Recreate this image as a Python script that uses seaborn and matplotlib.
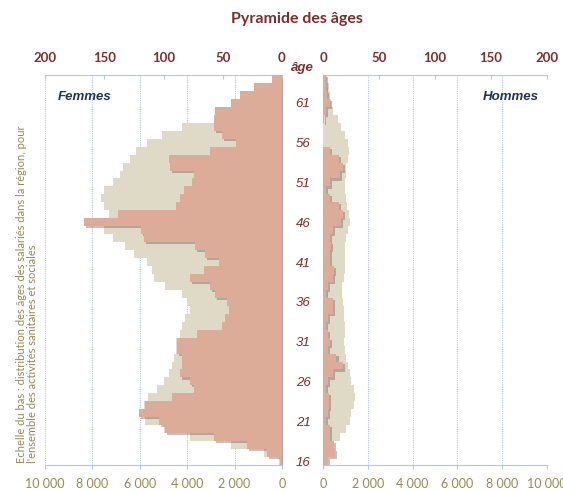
import matplotlib
matplotlib.use("Agg")
import matplotlib.pyplot as plt
import matplotlib.patheffects as pe
from matplotlib.ticker import FuncFormatter
import seaborn as sns

# ages, youngest first
ages = list(range(16, 65))

# bottom scale (0-10 000): regional distribution
femmes_region = [140, 773, 2150, 3880, 4991, 5765, 5905, 5807, 5666, 5273,
                 4991, 4780, 4640, 4541, 4471, 4471, 4288, 4218, 4077, 3895,
                 4007, 4218, 4921, 5413, 5483, 5694, 6257, 6608, 7128, 7494,
                 7311, 7311, 7494, 7620, 7494, 7128, 6819, 6707, 6425, 6144,
                 5694, 5062, 4220, 2700, 2200, 1700, 1200, 800, 400]
hommes_region = [150, 300, 450, 745, 1045, 1195, 1270, 1375, 1420, 1375,
                 1270, 1195, 1120, 1045, 970, 940, 970, 970, 940, 925,
                 895, 865, 850, 925, 970, 1000, 985, 1000, 1045, 1120,
                 1225, 1165, 1090, 1045, 970, 970, 1015, 1045, 1120, 1150,
                 1120, 970, 820, 670, 450, 370, 300, 250, 200]

# top scale (0-200): establishment headcount
femmes_etab = [2, 12.7, 29.5, 57.8, 98.7, 104, 121, 116, 92.8, 74.5,
               77.4, 85.8, 84.4, 84.4, 88.6, 88.6, 71.7, 50.6, 47.8, 45,
               46.4, 56.3, 60.5, 77.4, 66.1, 53.4, 64.7, 73.1, 116.7, 119,
               166.8, 138.7, 89.5, 85.8, 83, 75.9, 74.5, 94.2, 95.6, 61,
               39, 50.6, 57.5, 57.8, 56.9, 43, 35.8, 23.4, 8.1]
hommes_etab = [4.5, 10.4, 9.6, 6, 6, 3, 4.5, 5.4, 5.4, 3,
               4.5, 9, 17.9, 12, 4.5, 6, 4.5, 3, 4.5, 9,
               9, 3, 4.5, 9, 9.6, 6, 6, 7.5, 6, 9,
               16.4, 17.9, 14.3, 6, 3, 6, 14.9, 17.9, 14.3, 6,
               0, 0, 0, 1, 3, 6, 3.6, 2.4, 3]

bottom_ticks = [0, 2000, 4000, 6000, 8000, 10000]
top_ticks = [0, 50, 100, 150, 200]
age_ticks = list(range(16, 62, 5))

BEIGE = "#DEDAC5"
PINK = "#DDAC99"
RED = "#7B2E2C"
OLIVE = "#948A54"
NAVY = "#1F3550"
GRIDC = "#B4C7E0"
FONT = "Lato"

fig = plt.figure(figsize=(5.63, 4.91), dpi=100)
W, H = 563, 491
axL = fig.add_axes([45 / W, 26 / H, 237 / W, 390 / H])
axR = fig.add_axes([323 / W, 26 / H, 224 / W, 390 / H])

fmt = FuncFormatter(lambda v, p: f"{int(v):,}".replace(",", " "))

for ax, region, etab, flip in [(axL, femmes_region, femmes_etab, True),
                               (axR, hommes_region, hommes_etab, False)]:
    sns.barplot(x=region, y=ages, orient="h", native_scale=True, color=BEIGE,
                saturation=1, width=1, linewidth=0, errorbar=None, ax=ax)
    axt = ax.twiny()
    sns.barplot(x=etab, y=ages, orient="h", native_scale=True, color=PINK,
                saturation=1, width=1, linewidth=0, errorbar=None, ax=axt)
    # upper bars first so their shadow only shows where the next bar is narrower
    for p in axt.patches:
        p.set_zorder(3 - p.get_y() * 0.001)
        p.set_path_effects([pe.SimplePatchShadow(offset=(1.5, -1.5), shadow_rgbFace="#505050",
                                                 alpha=0.35), pe.Normal()])

    ax.set_ylim(15.5, 64.5)
    if flip:
        ax.set_xlim(10000, 0)
        axt.set_xlim(200, 0)
    else:
        ax.set_xlim(0, 10000)
        axt.set_xlim(0, 200)

    ax.set_xticks(bottom_ticks)
    ax.xaxis.set_major_formatter(fmt)
    axt.set_xticks(top_ticks)
    ax.set_xlabel("")
    ax.set_ylabel("")
    axt.set_xlabel("")

    ax.set_axisbelow(True)
    ax.grid(axis="x", color=GRIDC, linestyle=(0, (1, 1)), linewidth=0.8)
    ax.grid(axis="y", visible=False)

    for s in ["top", "left", "right"]:
        ax.spines[s].set_visible(False)
    for s in ["bottom", "left", "right"]:
        axt.spines[s].set_visible(False)
    ax.spines["bottom"].set_color(GRIDC)
    axt.spines["top"].set_color(GRIDC)

    ax.tick_params(axis="x", colors=GRIDC, length=3, direction="out", pad=6,
                   labelcolor=OLIVE, labelsize=9)
    axt.tick_params(axis="x", colors=GRIDC, length=3, direction="in", pad=8,
                    labelcolor=RED, labelsize=9.5)
    for lbl in ax.get_xticklabels():
        lbl.set_fontfamily(FONT)
    for lbl in axt.get_xticklabels():
        lbl.set_fontfamily(FONT)
        lbl.set_fontweight("bold")

# thin grey edge on the femmes side at zero
axL.spines["right"].set_visible(True)
axL.spines["right"].set_color("#A8A8A8")
axL.spines["right"].set_linewidth(0.8)

axL.set_yticks([])
axR.set_yticks(age_ticks)
axR.set_yticklabels([str(a) for a in age_ticks])
axR.tick_params(axis="y", length=0, pad=14.4)
for lbl in axR.get_yticklabels():
    lbl.set_ha("center")
    lbl.set_color(RED)
    lbl.set_style("italic")
    lbl.set_fontfamily("Liberation Sans")
    lbl.set_fontsize(9.5)

fig.text(302 / W, 1 - 68 / H, "âge", ha="center", va="center", color=RED,
         fontsize=9.5, fontweight="bold", style="italic", family="Liberation Sans")
fig.text(85 / W, 1 - 97 / H, "Femmes", ha="center", va="center", color=NAVY,
         fontsize=9.5, fontweight="bold", style="italic", family="Liberation Sans")
fig.text(511 / W, 1 - 97 / H, "Hommes", ha="center", va="center", color=NAVY,
         fontsize=9.5, fontweight="bold", style="italic", family="Liberation Sans")
fig.text(297 / W, 1 - 19 / H, "Pyramide des âges", ha="center", va="center", color=RED,
         fontsize=11.5, fontweight="bold", family=FONT)
fig.text(27 / W, 1 - 463 / H,
         "Echelle du bas : distribution des âges des salariés dans la région, pour\n"
         "l'ensemble des activités sanitaires et sociales",
         rotation=90, ha="center", va="bottom", ma="left", color=OLIVE,
         fontsize=8, family=FONT, linespacing=1.05)

fig.savefig("out.png", dpi=100)
